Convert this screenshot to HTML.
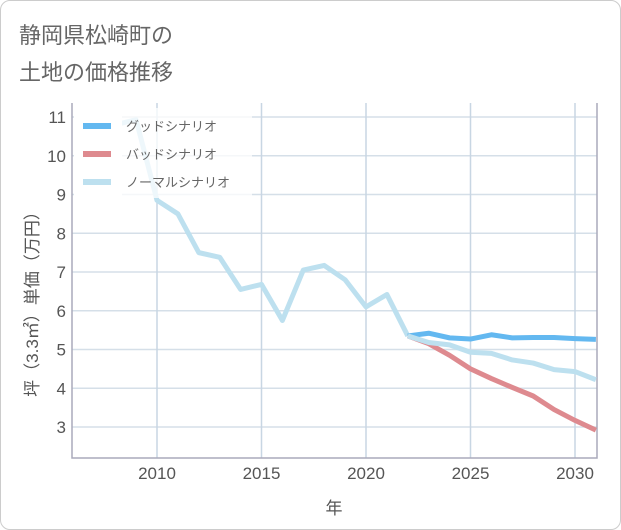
<!DOCTYPE html>
<html><head><meta charset="utf-8"><style>
body{margin:0;background:#fff;}
#card{position:absolute;left:0;top:0;width:619px;height:528px;border:1px solid #ccc;border-radius:10px;background:#fff;}
.t{position:absolute;left:18px;font:22px "Liberation Sans","Noto Sans CJK JP",sans-serif;color:#666;}
svg text{font-family:"Liberation Sans","Noto Sans CJK JP",sans-serif;}
</style></head><body>
<div id="card">
<div class="t" style="top:17px">静岡県松崎町の</div>
<div class="t" style="top:54px">土地の価格推移</div>
</div>
<svg id="c" width="621" height="530" style="position:absolute;left:0;top:0"></svg>
<script>
const years=[2008,2009,2010,2011,2012,2013,2014,2015,2016,2017,2018,2019,2020,2021,2022];
const normalHist=[10.8,10.93,8.85,8.5,7.5,7.38,6.55,6.68,5.75,7.05,7.17,6.8,6.1,6.42,5.35];
const futureYears=[2022,2023,2024,2025,2026,2027,2028,2029,2030,2031];
const goodVals=[5.35,5.42,5.3,5.27,5.38,5.3,5.31,5.31,5.28,5.26];
const badVals=[5.35,5.15,4.85,4.5,4.25,4.02,3.8,3.45,3.17,2.92];
const normalVals=[5.35,5.18,5.12,4.93,4.9,4.73,4.65,4.48,4.43,4.22];
const xTicks=[2010,2015,2020,2025,2030];
const yTicks=[3,4,5,6,7,8,9,10,11];
const L=72,R=597,T=103,B=458;
const x=v=>157+(v-2010)*20.9;
const y=v=>427-(v-3)*38.75;
const svg=document.getElementById('c');
const NS='http://www.w3.org/2000/svg';
function mk(t,a,p){const e=document.createElementNS(NS,t);for(const k in a)e.setAttribute(k,a[k]);(p||svg).appendChild(e);return e;}
yTicks.forEach(v=>{
 const g=mk('line',{x1:L,x2:R,y1:y(v),y2:y(v),stroke:'#d5dfe8','stroke-width':1.5});
 
 
 const t=mk('text',{x:L-6,y:y(v)+6,'text-anchor':'end','font-size':17,fill:'#555'});t.textContent=v;
 
 
});
xTicks.forEach(v=>{
 const g=mk('line',{x1:x(v),x2:x(v),y1:T,y2:B,stroke:'#c8d6e3','stroke-width':1.5});
 
 
 const t=mk('text',{x:x(v),y:B+21,'text-anchor':'middle','font-size':17,fill:'#555'});t.textContent=v;
 
 
});
const ax=mk('path',{d:`M${L},${T}V${B}H${R}V${T}`,fill:'none',stroke:'#aab','stroke-width':1.5});


function line(xs,vs,col,name){
 const p=mk('polyline',{points:xs.map((v,i)=>x(v)+','+y(vs[i])).join(' '),fill:'none',stroke:col,'stroke-width':5,'stroke-linejoin':'round'});
 
 
}
line(years,normalHist,'#bde0ef','normal-history-line');
line(futureYears,badVals,'#de8a8f','bad-scenario-line');
line(futureYears,goodVals,'#63b8f0','good-scenario-line');
line(futureYears,normalVals,'#bde0ef','normal-scenario-line');
const lg=mk('g',{});


mk('rect',{x:74,y:108,width:48,height:90,fill:'#fff'},lg);
mk('rect',{x:122,y:108,width:130,height:90,fill:'#fff','fill-opacity':0.75},lg);
[['グッドシナリオ','#63b8f0'],['バッドシナリオ','#de8a8f'],['ノーマルシナリオ','#bde0ef']].forEach((d,i)=>{
 const yy=126+i*28;
 const s=mk('line',{x1:83,x2:111,y1:yy,y2:yy,stroke:d[1],'stroke-width':6},lg);
 
 
 const t=mk('text',{x:126,y:yy+5,'font-size':13,fill:'#666'},lg);t.textContent=d[0];
 
 
});
const xt=mk('text',{x:334,y:514,'text-anchor':'middle','font-size':17,fill:'#555'});xt.textContent='年';


const yt=mk('text',{x:0,y:0,'text-anchor':'middle','font-size':17,fill:'#555',transform:'translate(38,300) rotate(-90)'});yt.textContent='坪（3.3㎡）単価（万円）';


</script>
</body></html>
